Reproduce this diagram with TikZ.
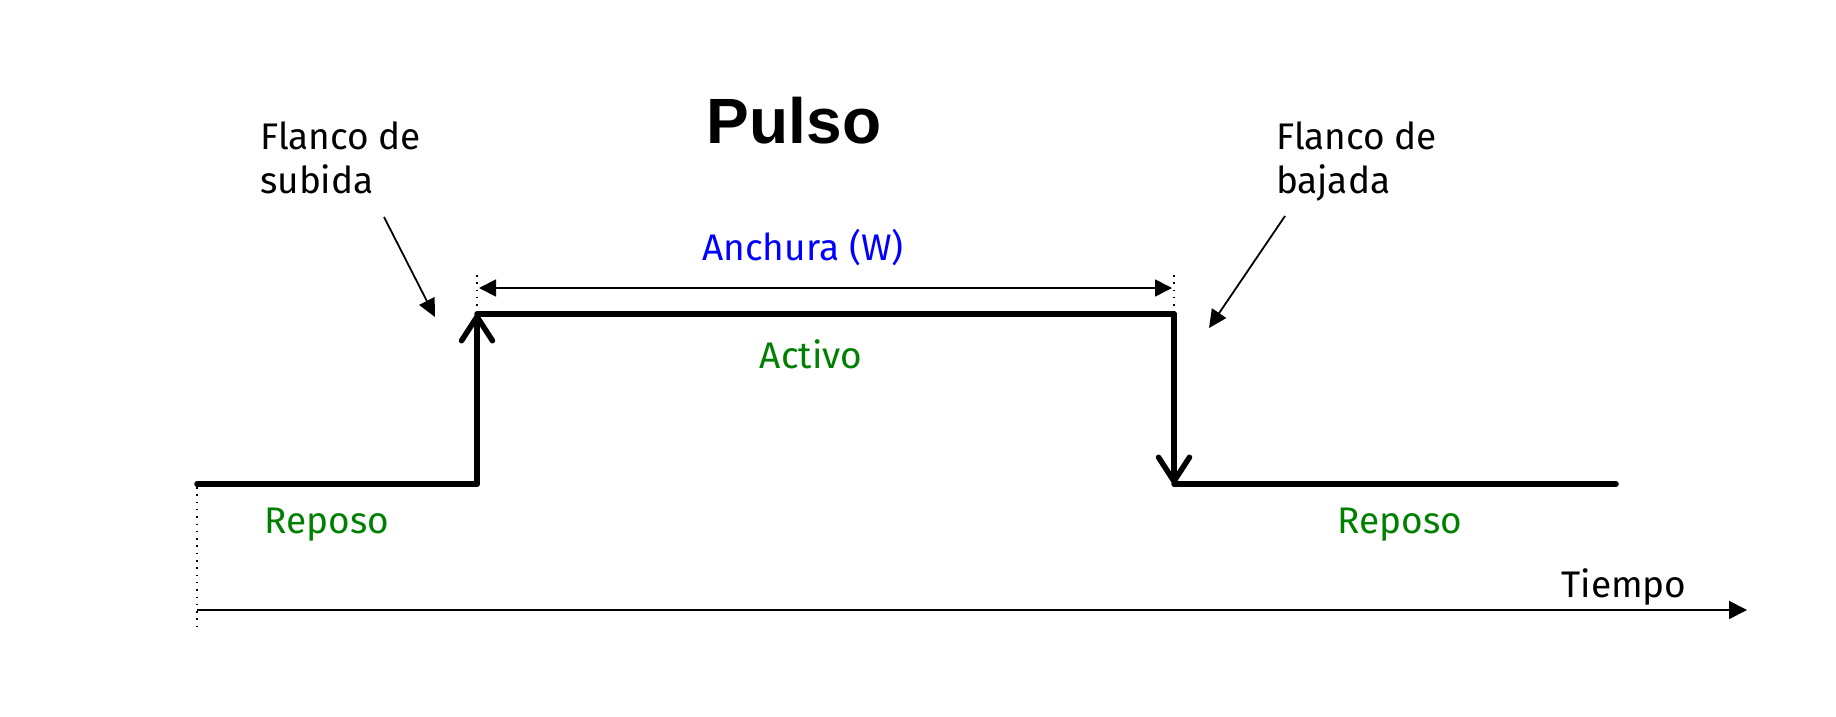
\documentclass[tikz,border=0pt]{standalone}
\usepackage{fontspec}
\setmainfont{Fira Sans}
\newfontfamily\titlefont{Liberation Sans}
\usetikzlibrary{arrows.meta}
\definecolor{labgreen}{RGB}{0,128,0}
\definecolor{labblue}{RGB}{0,0,255}
\begin{document}
\begin{tikzpicture}[x=1pt,y=-1pt,
  signal/.style={line width=5.5pt, line cap=round, line join=round},
  edgearrow/.style={signal, -{Straight Barb[length=24pt,width=31pt,line cap=round,line join=round]}},
  thinline/.style={line width=1.8pt},
  tri/.style={-{Triangle[length=18pt,width=17pt]}},
  dotline/.style={line width=1.5pt, dash pattern=on 1.5pt off 5.8pt},
  lab/.style={font=\fontsize{37}{44}\selectfont, inner sep=0pt, align=left}
]
\useasboundingbox (0,0) rectangle (1836,717);
% waveform coordinates
\coordinate (l0) at (197,484);
\coordinate (r0) at (477,484);
\coordinate (r1) at (477,314);
\coordinate (f1) at (1174,314);
\coordinate (f0) at (1174,484);
\coordinate (e0) at (1616,484);
% axis
\coordinate (a0) at (197,610);
\coordinate (a1) at (1747,610);
\coordinate (d0) at (197,487);
\coordinate (d1) at (197,630);
% width marks
\coordinate (m0) at (477,275);
\coordinate (m1) at (477,309);
\coordinate (n0) at (1174,275);
\coordinate (n1) at (1174,309);
\coordinate (w0) at (479,288);
\coordinate (w1) at (1172,288);
% annotation arrows
\coordinate (s0) at (384,217);
\coordinate (s1) at (435,317);
\coordinate (b0) at (1285,216);
\coordinate (b1) at (1209,328);

\draw[signal] (l0) -- (r0);
\draw[edgearrow] (r0) -- (r1);
\draw[signal] (r1) -- (f1);
\draw[edgearrow] (f1) -- (f0);
\draw[signal] (f0) -- (e0);

\draw[thinline,-{Triangle[length=18pt,width=18pt]}] (a0) -- (a1);
\draw[dotline] (d0) -- (d1);
\draw[dotline] (m0) -- (m1);
\draw[dotline] (n0) -- (n1);
\draw[thinline,{Triangle[length=17pt,width=17pt]}-{Triangle[length=17pt,width=17pt]}] (w0) -- (w1);
\draw[thinline,tri] (s0) -- (s1);
\draw[thinline,tri] (b0) -- (b1);

\node[inner sep=0pt, anchor=base, font=\titlefont\bfseries\fontsize{64}{70}\selectfont] (title) at (794,143) {Pulso};
\node[lab, anchor=base west] (subida) at (260,193) {Flanco de\\subida};
\node[lab, anchor=base west] (bajada) at (1276,193) {Flanco de\\bajada};
\node[lab, anchor=base, text=labblue] (anchura) at (803,260) {Anchura (W)};
\node[lab, anchor=base, text=labgreen] (activo) at (811,368) {Activo};
\node[lab, anchor=base, text=labgreen] (reposo1) at (327,533) {Reposo};
\node[lab, anchor=base, text=labgreen] (reposo2) at (1400,533) {Reposo};
\node[lab, anchor=base] (tiempo) at (1624,597) {Tiempo};
\end{tikzpicture}
\end{document}
